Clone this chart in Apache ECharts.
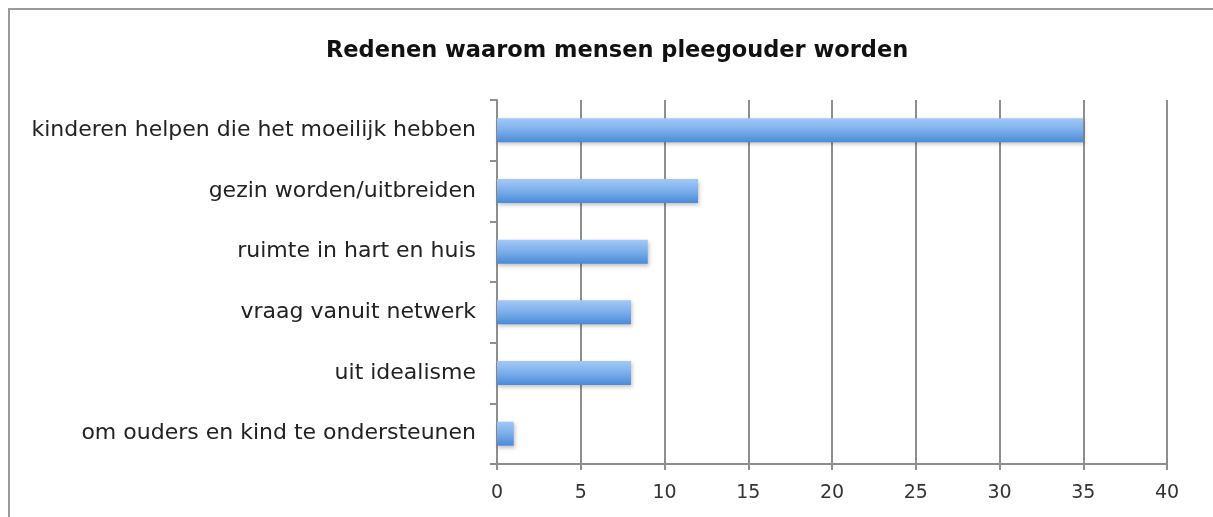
<!DOCTYPE html>
<html>
<head>
<meta charset="utf-8">
<script src="https://cdn.jsdelivr.net/npm/echarts@6/dist/echarts.min.js"></script>
<style>
  html, body { margin: 0; padding: 0; background: #fff; }
  #frame { position: absolute; left: 8px; top: 8px; width: 1300px; height: 600px; border: 2px solid #9a9a9a; box-sizing: border-box; }
  #chart { position: absolute; left: 0; top: 0; width: 1213px; height: 517px; }
</style>
</head>
<body>
<div id="frame"></div>
<div id="chart"></div>
<script>
// redenen, van boven naar beneden
var categories = [
  'kinderen helpen die het moeilijk hebben',
  'gezin worden/uitbreiden',
  'ruimte in hart en huis',
  'vraag vanuit netwerk',
  'uit idealisme',
  'om ouders en kind te ondersteunen'
]
var values = [35, 12, 9, 8, 8, 1]
var xTicks = [0, 5, 10, 15, 20, 25, 30, 35, 40]

var gridColor = '#8e8e8e'
var chart = echarts.init(document.getElementById('chart'))

chart.setOption({
  animation: false,
  title: {
    text: 'Redenen waarom mensen pleegouder worden',
    left: 321,
    top: 35,
    textStyle: {
      fontFamily: 'DejaVu Sans',
      fontSize: 22.5,
      fontWeight: 'bold',
      color: '#111'
    }
  },
  grid: {
    left: 497,
    right: 46,
    top: 100,
    bottom: 53
  },
  xAxis: {
    type: 'value',
    min: xTicks[0],
    max: xTicks[xTicks.length - 1],
    interval: 5,
    axisLine: { show: true, lineStyle: { color: gridColor, width: 2 } },
    axisTick: { show: true, length: 6, lineStyle: { color: gridColor, width: 2 } },
    splitLine: { show: true, lineStyle: { color: gridColor, width: 2 } },
    axisLabel: {
      margin: 20,
      fontFamily: 'DejaVu Sans',
      fontSize: 19,
      color: '#333'
    }
  },
  yAxis: {
    type: 'category',
    inverse: true,
    data: categories,
    axisLine: { show: true, lineStyle: { color: gridColor, width: 2 } },
    axisTick: { show: true, length: 7, lineStyle: { color: gridColor, width: 2 } },
    axisLabel: {
      margin: 21,
      fontFamily: 'DejaVu Sans',
      fontSize: 22,
      color: '#222'
    }
  },
  series: [{
    type: 'bar',
    data: values,
    barWidth: 24,
    itemStyle: {
      color: new echarts.graphic.LinearGradient(0, 0, 0, 1, [
        { offset: 0, color: '#a3c8f7' },
        { offset: 0.5, color: '#7aaeea' },
        { offset: 1, color: '#4a8ad8' }
      ]),
      shadowColor: 'rgba(0,0,0,0.25)',
      shadowBlur: 4,
      shadowOffsetX: 1,
      shadowOffsetY: 2
    }
  }]
})
</script>
</body>
</html>
